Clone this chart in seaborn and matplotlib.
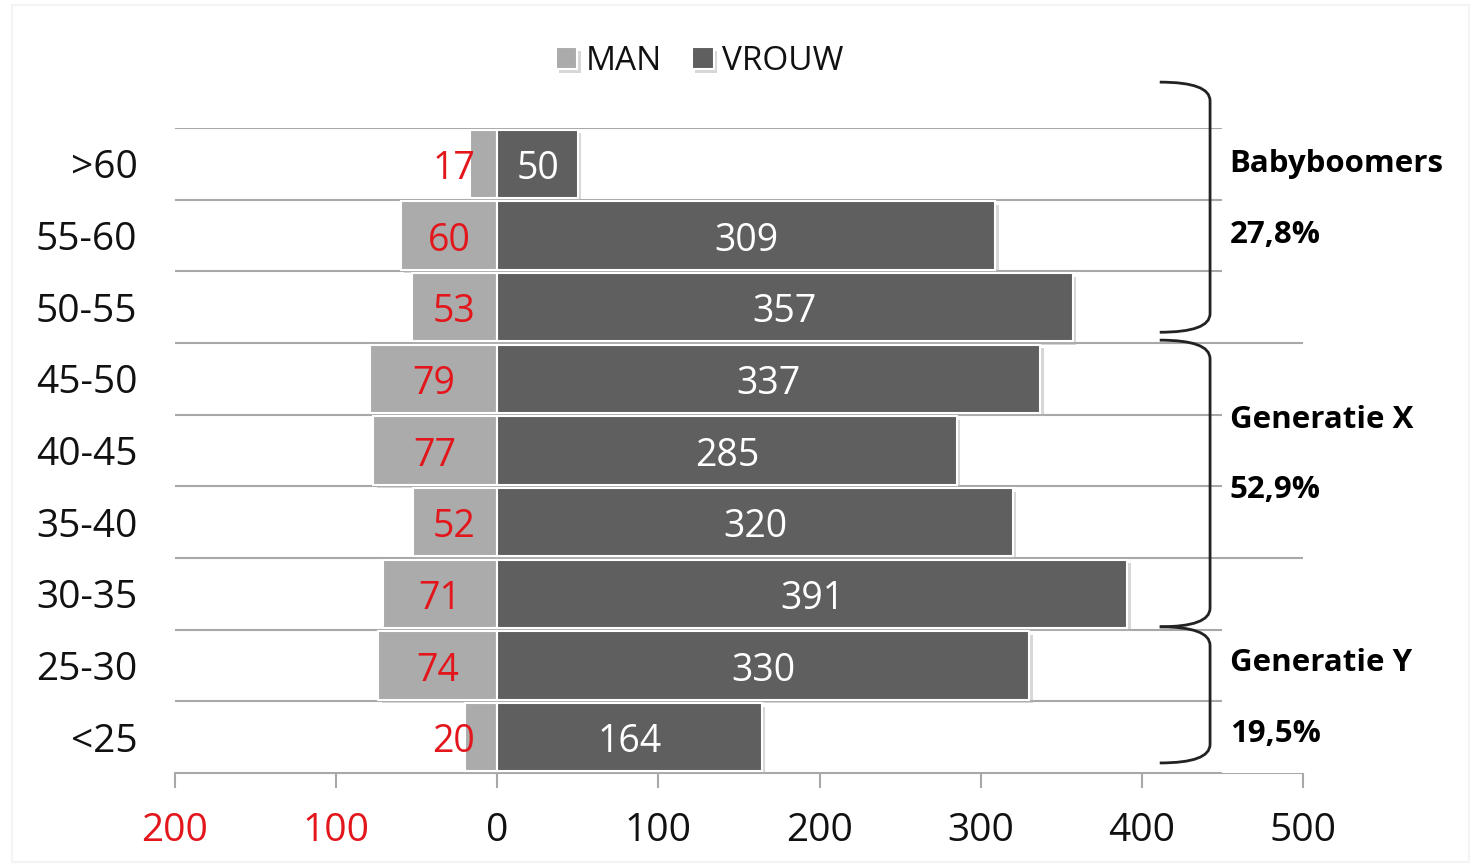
import numpy as np
import matplotlib.pyplot as plt
import matplotlib.patheffects as pe
import matplotlib.transforms as mtrans
from matplotlib.path import Path
from matplotlib.patches import PathPatch, Rectangle
import seaborn as sns

# data
ages = ['>60', '55-60', '50-55', '45-50', '40-45', '35-40', '30-35', '25-30', '<25']
man = [17, 60, 53, 79, 77, 52, 71, 74, 20]
vrouw = [50, 309, 357, 337, 285, 320, 391, 330, 164]
x_ticks = [-200, -100, 0, 100, 200, 300, 400, 500]
groups = ['Babyboomers', 'Generatie X', 'Generatie Y']
group_pct = ['27,8%', '52,9%', '19,5%']
# bracket extent (data y, top / bottom) and label rows per group
group_span = [(-1.14, 2.35), (2.46, 6.46), (6.46, 8.36)]
group_text_y = [(-0.05, 0.95), (3.52, 4.5), (6.92, 7.9)]

MAN_C = '#ABABAB'
VROUW_C = '#5F5F5F'
RED = '#E2161B'
GRID_C = '#A8A8A8'

sns.set_style('white')
plt.rcParams['font.family'] = ['Open Sans', 'DejaVu Sans']
plt.rcParams['text.color'] = '#111111'
plt.rcParams['xtick.labelcolor'] = '#111111'
plt.rcParams['ytick.labelcolor'] = '#111111'

fig = plt.figure(figsize=(14.78, 8.66), dpi=100)
fig.patches.append(Rectangle((0.008, 0.005), 0.986, 0.989, transform=fig.transFigure,
                             fill=False, edgecolor='#F4F4F4', linewidth=1.5))
ax = fig.add_axes([0.1184, 0.1074, 0.7632, 0.7448])

# row separators
ax.hlines(np.arange(len(ages)) - 0.5, x_ticks[0], x_ticks[-1], color=GRID_C, linewidth=1.5, zorder=0)

shadow = [pe.SimplePatchShadow(offset=(2.5, -2.5), shadow_rgbFace='#B0B0B0', alpha=0.5), pe.Normal()]
sns.barplot(x=-np.array(man), y=ages, orient='h', color=MAN_C, saturation=1, width=0.95,
            edgecolor='white', linewidth=1.5, label='MAN', ax=ax, zorder=2)
sns.barplot(x=np.array(vrouw), y=ages, orient='h', color=VROUW_C, saturation=1, width=0.95,
            edgecolor='white', linewidth=1.5, label='VROUW', ax=ax, zorder=2)
for p in ax.patches:
    p.set_path_effects(shadow)

for i, (m, v) in enumerate(zip(man, vrouw)):
    ax.text(-max(m / 2, 27), i + 0.07, str(m), color=RED, fontsize=27, ha='center', va='center', zorder=5)
    ax.text(v / 2, i + 0.07, str(v), color='white', fontsize=27, ha='center', va='center', zorder=5)

ax.set_xlim(x_ticks[0], x_ticks[-1])
ax.set_ylim(len(ages) - 0.5, -0.5)
ax.set_xticks(x_ticks)
ax.set_xticklabels([str(abs(t)) for t in x_ticks])
for t, lab in zip(x_ticks, ax.get_xticklabels()):
    lab.set_color(RED if t < 0 else '#111111')
ax.tick_params(axis='x', bottom=True, length=11, width=1.5, color=GRID_C, pad=17, labelsize=28)
ax.tick_params(axis='y', left=False, length=0, pad=27, labelsize=28)
ax.set_xlabel('')
ax.set_ylabel('')
for s in ['top', 'left', 'right']:
    ax.spines[s].set_visible(False)
ax.spines['bottom'].set_color(GRID_C)
ax.spines['bottom'].set_linewidth(1.5)
ax.spines['bottom'].set_zorder(0)

# generation brackets and labels (x in axes fraction, y in data)
trans = mtrans.blended_transform_factory(ax.transAxes, ax.transData)
x0, x1, r = 0.873, 0.9176, 0.26
for (top, bot), name, pct, (ty1, ty2) in zip(group_span, groups, group_pct, group_text_y):
    verts = [(x0, top), (x1, top), (x1, top + r), (x1, bot - r), (x1, bot), (x0, bot)]
    codes = [Path.MOVETO, Path.CURVE3, Path.CURVE3, Path.LINETO, Path.CURVE3, Path.CURVE3]
    ax.add_patch(PathPatch(Path(verts, codes), transform=trans, fill=False, edgecolor='#222222',
                           linewidth=2, clip_on=False, zorder=4))
    ax.add_patch(Rectangle((0.928, ty1 - 0.6), 0.08, (ty2 - ty1) + 1.2, transform=trans,
                           facecolor='white', edgecolor='none', zorder=1, clip_on=False))
    ax.text(0.935, ty1 + 0.05, name, transform=trans, fontsize=22.5, fontweight='bold',
            color='black', ha='left', va='center', zorder=5)
    ax.text(0.935, ty2 + 0.05, pct, transform=trans, fontsize=22.5, fontweight='bold',
            color='black', ha='left', va='center', zorder=5)

ax.legend(loc='center', bbox_to_anchor=(0.465, 1.103), ncol=2, frameon=False, fontsize=24,
          handlelength=0.65, handleheight=0.65, handletextpad=0.25, columnspacing=0.9)

fig.savefig('out.png', dpi=100)
